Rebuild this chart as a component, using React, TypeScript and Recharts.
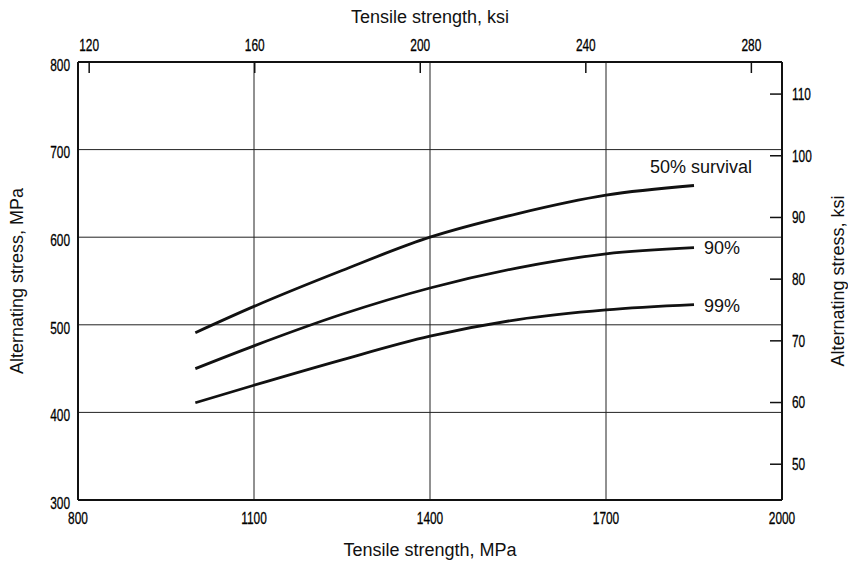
import React from 'react';
import { LineChart, Line, XAxis, YAxis, CartesianGrid, Label, LabelList } from 'recharts';

// tensile strength (MPa) where the curves were sampled
const strengthMPa = [1000, 1100, 1250, 1400, 1550, 1700, 1850];
// alternating stress (MPa) for each survival probability
const survival50 = [491, 521, 562, 600, 627, 648, 659];
const survival90 = [450, 476, 512, 542, 565, 581, 588];
const survival99 = [411, 431, 460, 487, 506, 517, 523];

const mpaXTicks = [800, 1100, 1400, 1700, 2000];
const mpaYTicks = [300, 400, 500, 600, 700, 800];
const ksiXTicks = [120, 160, 200, 240, 280];
const ksiYTicks = [50, 60, 70, 80, 90, 100, 110];

const curveLabels = ['50% survival', '90%', '99%'];

// ksi range printed along the top edge, spanning the same 800-2000 MPa width
const KSI_TOP_MIN = 117.3;
const KSI_TOP_MAX = 287.4;
const ksiToMPa = (k: number) => 800 + ((k - KSI_TOP_MIN) / (KSI_TOP_MAX - KSI_TOP_MIN)) * 1200;
const topTickPositions = ksiXTicks.map(ksiToMPa);

const data = strengthMPa.map((s, i) => ({
  mpa: s,
  s50: survival50[i],
  s90: survival90[i],
  s99: survival99[i],
}));

const TITLE_FONT = '"Liberation Sans", Arial, sans-serif';
const INK = '#111';

// condensed numerals for the scale labels
const Num = ({ x, y, anchor, baseline, children }: any) => (
  <text transform={`translate(${x} ${y}) scale(0.7 1)`} textAnchor={anchor} dominantBaseline={baseline}
    fontSize={17} fontFamily={TITLE_FONT} fill="#000" stroke="#000" strokeWidth={0.3}>
    {children}
  </text>
);

const BottomTick = (props: any) => {
  const { x, y, payload } = props;
  return <Num x={x} y={y} anchor="middle" baseline="hanging">{payload.value}</Num>;
};

const LeftTick = (props: any) => {
  const { x, y, payload } = props;
  return <Num x={x} y={y + 3} anchor="end" baseline="central">{payload.value}</Num>;
};

// top ksi ticks: short marks pointing down into the plot
const TopTick = (props: any) => {
  const { x, y, payload } = props;
  const k = Math.round(KSI_TOP_MIN + ((payload.value - 800) / 1200) * (KSI_TOP_MAX - KSI_TOP_MIN));
  return (
    <g>
      <line x1={x} x2={x} y1={y + 10} y2={y + 21} stroke={INK} strokeWidth={1.5} />
      <Num x={x} y={y - 1} anchor="middle" baseline="auto">{k}</Num>
    </g>
  );
};

// right ksi ticks: short marks pointing left into the plot
const RightTick = (props: any) => {
  const { x, y, payload } = props;
  return (
    <g>
      <line x1={x - 22} x2={x - 10} y1={y} y2={y} stroke={INK} strokeWidth={1.5} />
      <Num x={x} y={y} anchor="start" baseline="central">{payload.value}</Num>
    </g>
  );
};

const endLabel = (text: string, dx: number, dy: number, anchor: string) => (props: any) => {
  const { x, y, index } = props;
  if (index !== strengthMPa.length - 1) return null;
  return (
    <text x={x + dx} y={y + dy} textAnchor={anchor} dominantBaseline="central"
      fontSize={18} fontFamily={TITLE_FONT} fill={INK}>
      {text}
    </text>
  );
};

const rotatedTitle = (text: string, xPos: (vb: any) => number) => (props: any) => {
  const vb = props.viewBox;
  const cx = xPos(vb);
  const cy = vb.y + vb.height / 2;
  return (
    <text x={cx} y={cy} transform={`rotate(-90 ${cx} ${cy})`} textAnchor="middle"
      dominantBaseline="central" fontSize={18} fontFamily={TITLE_FONT} fill={INK}>
      {text}
    </text>
  );
};

const flatTitle = (text: string, yPos: (vb: any) => number) => (props: any) => {
  const vb = props.viewBox;
  return (
    <text x={vb.x + vb.width / 2} y={yPos(vb)} textAnchor="middle" dominantBaseline="central"
      fontSize={18} fontFamily={TITLE_FONT} fill={INK}>
      {text}
    </text>
  );
};

const App: React.FC = () => {
  return (
    <div style={{ position: 'absolute', left: 0, top: 0, background: '#fff' }}>
      <LineChart width={848} height={561} data={data} margin={{ top: 0, right: 0, bottom: 0, left: 0 }}>
        <CartesianGrid xAxisId="mpa" yAxisId="mpa" stroke="#222" strokeWidth={1} />
        <XAxis xAxisId="mpa" dataKey="mpa" type="number" orientation="bottom" domain={[800, 2000]}
          ticks={mpaXTicks} height={61} tickSize={0} tickLine={false} tickMargin={12}
          axisLine={{ stroke: INK, strokeWidth: 2 }} tick={<BottomTick />} interval={0} allowDataOverflow>
          <Label content={flatTitle('Tensile strength, MPa', (vb) => vb.y + 50)} />
        </XAxis>
        <XAxis xAxisId="ksi" dataKey="mpa" type="number" orientation="top" domain={[800, 2000]}
          ticks={topTickPositions} height={62} tickSize={0} tickLine={false} tickMargin={10}
          axisLine={{ stroke: INK, strokeWidth: 2 }} tick={<TopTick />} interval={0} allowDataOverflow>
          <Label content={flatTitle('Tensile strength, ksi', (vb) => vb.y + 17)} />
        </XAxis>
        <YAxis yAxisId="mpa" orientation="left" domain={[300, 800]} ticks={mpaYTicks} width={78}
          tickSize={0} tickLine={false} tickMargin={8} axisLine={{ stroke: INK, strokeWidth: 2 }}
          tick={<LeftTick />} interval={0} allowDataOverflow>
          <Label content={rotatedTitle('Alternating stress, MPa', (vb) => vb.x + 17)} />
        </YAxis>
        <YAxis yAxisId="ksi" orientation="right" domain={[44.2, 115.2]} ticks={ksiYTicks} width={66}
          tickSize={0} tickLine={false} tickMargin={10} axisLine={{ stroke: INK, strokeWidth: 2 }}
          tick={<RightTick />} interval={0} allowDataOverflow>
          <Label content={rotatedTitle('Alternating stress, ksi', (vb) => vb.x + 56)} />
        </YAxis>
        <Line xAxisId="mpa" yAxisId="mpa" type="monotone" dataKey="s50" stroke={INK} strokeWidth={2.8}
          dot={false} isAnimationActive={false}>
          <LabelList dataKey="s50" content={endLabel(curveLabels[0], 7, -19, 'middle')} />
        </Line>
        <Line xAxisId="mpa" yAxisId="mpa" type="monotone" dataKey="s90" stroke={INK} strokeWidth={2.8}
          dot={false} isAnimationActive={false}>
          <LabelList dataKey="s90" content={endLabel(curveLabels[1], 10, 0, 'start')} />
        </Line>
        <Line xAxisId="mpa" yAxisId="mpa" type="monotone" dataKey="s99" stroke={INK} strokeWidth={2.8}
          dot={false} isAnimationActive={false}>
          <LabelList dataKey="s99" content={endLabel(curveLabels[2], 10, 1, 'start')} />
        </Line>
      </LineChart>
    </div>
  );
};

export default App;
